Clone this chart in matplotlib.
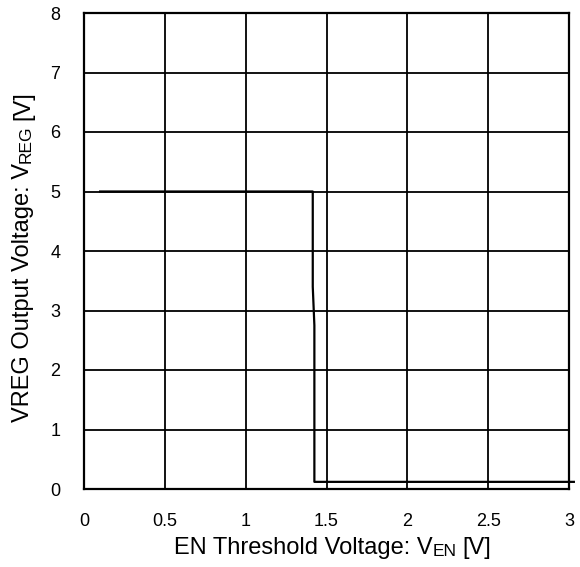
import matplotlib
matplotlib.use("Agg")
import matplotlib.pyplot as plt

# EN sweep vs regulator output
x_en = [0.1, 1.415, 1.415, 1.425, 1.425, 3.03]
v_reg = [5.0, 5.0, 3.4, 2.75, 0.12, 0.12]

x_ticks = [0, 0.5, 1, 1.5, 2, 2.5, 3]
x_tick_labels = ["0", "0.5", "1", "1.5", "2", "2.5", "3"]
y_ticks = [0, 1, 2, 3, 4, 5, 6, 7, 8]

plt.rcParams['font.family'] = ['Liberation Sans', 'DejaVu Sans']

fig = plt.figure(figsize=(5.8, 5.67), dpi=100)
ax = fig.add_axes([84 / 580, 1 - 489 / 567, 485 / 580, 476 / 567])

ax.plot(x_en, v_reg, color='black', linewidth=1.6, clip_on=False, zorder=3)

ax.set_xlim(0, 3)
ax.set_ylim(0, 8)
ax.set_xticks(x_ticks)
ax.set_xticklabels(x_tick_labels)
ax.set_yticks(y_ticks)
ax.tick_params(length=0, labelsize=13, pad=17)
ax.grid(True, color='black', linewidth=1.3)
ax.set_axisbelow(True)
for sp in ax.spines.values():
    sp.set_linewidth(1.6)
    sp.set_color('black')

big = 17
small = 12.5

# x label with small "EN" on the baseline
t1 = fig.text(174 / 580, 1 - 559 / 567, "EN Threshold Voltage: V", fontsize=big,
              ha='left', va='bottom')
t2 = ax.annotate("EN", xy=(1, 0), xycoords=t1, fontsize=small,
                 ha='left', va='bottom', annotation_clip=False)
ax.annotate("[V]", xy=(1, 0), xycoords=t2, xytext=(4, 0), textcoords='offset points',
            fontsize=big, ha='left', va='bottom', annotation_clip=False)

# y label, rotated, small "REG" on the baseline
s1 = fig.text(34 / 580, 1 - 422 / 567, "VREG Output Voltage: V", fontsize=big,
              rotation=90, ha='right', va='bottom')
s2 = ax.annotate("REG", xy=(1, 1), xycoords=s1, fontsize=small, rotation=90,
                 ha='right', va='bottom', annotation_clip=False)
ax.annotate("[V]", xy=(1, 1), xycoords=s2, xytext=(0, 4), textcoords='offset points',
            fontsize=big, rotation=90, ha='right', va='bottom', annotation_clip=False)

fig.savefig("out.png", dpi=100)
